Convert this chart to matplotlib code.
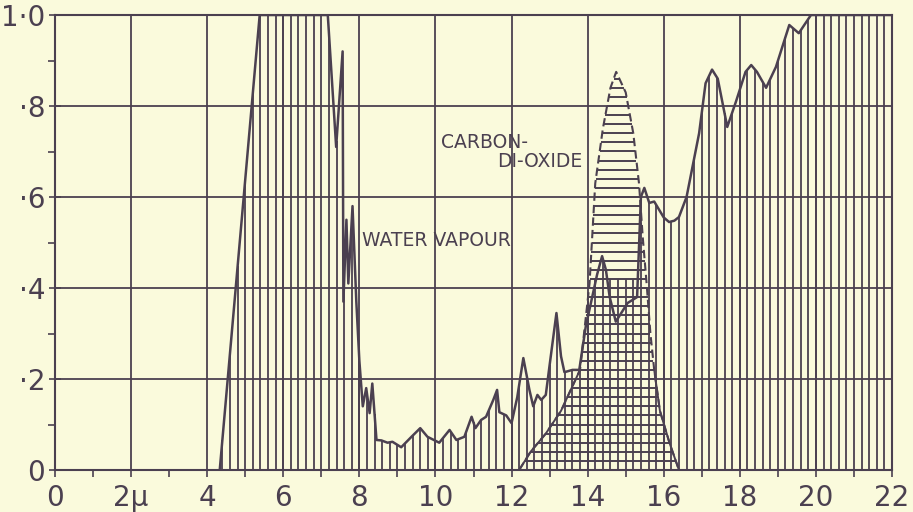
import numpy as np
import matplotlib.pyplot as plt

# water vapour absorption: wavelength (microns) vs fraction absorbed
water_x = [4.33, 5.38, 7.17, 7.39, 7.56, 7.58, 7.66, 7.71, 7.82, 7.92, 8.0, 8.09,
           8.18, 8.27, 8.34, 8.45, 8.58, 8.74, 8.87, 9.1, 9.37, 9.6, 9.79, 10.1,
           10.37, 10.55, 10.76, 10.95, 11.05, 11.2, 11.33, 11.52, 11.62, 11.68,
           11.86, 12.0, 12.15, 12.31, 12.47, 12.57, 12.68, 12.78, 12.9, 13.0,
           13.18, 13.3, 13.39, 13.6, 13.78, 13.95, 14.25, 14.38, 14.48, 14.58,
           14.74, 15.05, 15.3, 15.4, 15.49, 15.62, 15.75, 16.0, 16.14, 16.28,
           16.4, 16.6, 16.93, 17.1, 17.27, 17.42, 17.67, 17.9, 18.15, 18.3,
           18.45, 18.69, 18.95, 19.3, 19.55, 19.87, 22.0]
water_y = [0.0, 1.0, 1.0, 0.71, 0.92, 0.37, 0.55, 0.41, 0.58, 0.37, 0.24, 0.14,
           0.18, 0.125, 0.19, 0.066, 0.065, 0.06, 0.062, 0.05, 0.073, 0.092, 0.073, 0.06,
           0.088, 0.066, 0.073, 0.117, 0.092, 0.11, 0.117, 0.154, 0.176, 0.127,
           0.12, 0.103, 0.16, 0.246, 0.176, 0.14, 0.165, 0.154, 0.165, 0.23,
           0.345, 0.25, 0.215, 0.22, 0.22, 0.315, 0.43, 0.47, 0.44, 0.38,
           0.326, 0.367, 0.38, 0.6, 0.62, 0.587, 0.59, 0.555, 0.545, 0.548,
           0.556, 0.6, 0.74, 0.85, 0.88, 0.86, 0.754, 0.81, 0.875, 0.89,
           0.875, 0.84, 0.886, 0.978, 0.96, 1.0, 1.0]

# carbon dioxide absorption band
co2_x = [12.2, 12.5, 12.9, 13.3, 13.8, 14.05, 14.2, 14.4, 14.6, 14.75,
         15.0, 15.2, 15.35, 15.45, 15.55, 15.65, 15.75, 15.9, 16.15, 16.4]
co2_y = [0.0, 0.04, 0.08, 0.13, 0.22, 0.41, 0.63, 0.75, 0.84, 0.875,
         0.83, 0.74, 0.63, 0.51, 0.41, 0.3, 0.22, 0.13, 0.06, 0.0]

x_ticks = [0, 2, 4, 6, 8, 10, 12, 14, 16, 18, 20, 22]
x_labels = ['0', '2μ', '4', '6', '8', '10', '12', '14', '16', '18', '20', '22']
y_ticks = [0, 0.2, 0.4, 0.6, 0.8, 1.0]
y_labels = ['0', '·2', '·4', '·6', '·8', '1·0']

ink = '#4b4050'
paper = '#fafadc'

fig = plt.figure(figsize=(9.13, 5.12), dpi=100, facecolor=paper)
ax = fig.add_axes([55/913, 1 - 470/512, (892 - 55)/913, (470 - 15)/512])
ax.set_facecolor(paper)
ax.set_xlim(0, 22)
ax.set_ylim(0, 1.0)

# vertical hatching under water vapour curve (and lower part of CO2 band)
hx = np.arange(4.4, 22.01, 0.2)
w_top = np.interp(hx, water_x, water_y)
c_top = np.interp(hx, co2_x, co2_y, left=0, right=0)
top = np.maximum(w_top, np.minimum(c_top, 0.42))
ax.vlines(hx, 0, top, color=ink, lw=1.3)

# horizontal hatching of the CO2 band
peak = int(np.argmax(co2_y))
levels = np.arange(0.02, co2_y[peak], 0.02)
left = np.interp(levels, co2_y[:peak + 1], co2_x[:peak + 1])
right = np.interp(levels, co2_y[peak:][::-1], co2_x[peak:][::-1])
ax.hlines(levels, left, right, color=ink, lw=1.4)

ax.plot(co2_x, co2_y, color=ink, lw=1.5, ls=(0, (4, 2)))
ax.plot(co2_x[:5], co2_y[:5], color=ink, lw=1.4)
ax.plot(co2_x[-4:], co2_y[-4:], color=ink, lw=1.4)

ax.plot(water_x, water_y, color=ink, lw=1.8)

# grid and ticks
ax.set_xticks(x_ticks)
ax.set_xticklabels(x_labels, fontsize=20, color=ink)
ax.set_xticks(np.arange(1, 22, 2), minor=True)
ax.set_yticks(y_ticks)
ax.set_yticklabels(y_labels, fontsize=20, color=ink)
ax.set_yticks([0.1, 0.3, 0.5, 0.7, 0.9], minor=True)
ax.grid(True, which='major', color=ink, lw=1.3)
ax.tick_params(axis='x', which='both', direction='out', length=5, width=1.2,
               color=ink, pad=5)
ax.tick_params(axis='y', which='major', direction='inout', length=8, width=1.2,
               color=ink, pad=3)
ax.tick_params(axis='y', which='minor', direction='out', length=5, width=1.2,
               color=ink)
for s in ax.spines.values():
    s.set_color(ink)
    s.set_linewidth(1.5)

ax.text(8.06, 0.505, 'WATER VAPOUR', fontsize=13.5, va='center', color=ink)
ax.text(10.15, 0.719, 'CARBON-', fontsize=13.5, va='center', color=ink)
ax.text(11.63, 0.677, 'DI-OXIDE', fontsize=13.5, va='center', color=ink)

plt.savefig('out.png', dpi=100, facecolor=paper)
